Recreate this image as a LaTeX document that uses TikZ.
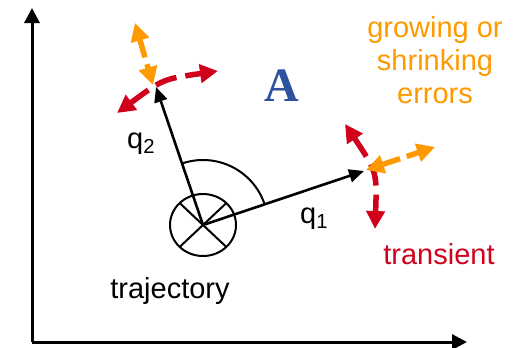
\documentclass[tikz,border=0pt]{standalone}
\usepackage{fontspec}
\setmainfont{Liberation Sans}
\newfontfamily\serifA{Liberation Serif}
\usetikzlibrary{arrows.meta,calc}
\definecolor{errorange}{RGB}{255,153,0}
\definecolor{transred}{RGB}{208,2,27}
\definecolor{ablue}{RGB}{47,82,160}
\tikzset{
  axisline/.style={line width=3pt,-{Triangle[length=15pt,width=15pt]}},
  vecline/.style={line width=2.6pt,-{Triangle[length=15pt,width=13pt]}},
  thinline/.style={line width=2pt},
  orangearr/.style={errorange,line width=5.5pt,dash pattern=on 19pt off 7pt,
    {Triangle[length=18pt,width=18pt]}-{Triangle[length=18pt,width=18pt]}},
  redarr/.style={transred,line width=5.5pt,dash pattern=on 22pt off 9pt,
    {Triangle[length=18pt,width=18pt]}-{Triangle[length=18pt,width=18pt]}},
  lbl/.style={inner sep=0pt,font=\fontsize{29}{34}\selectfont},
}
\begin{document}
\begin{tikzpicture}[x=1pt,y=-1pt]
\useasboundingbox (0,0) rectangle (522,348);
% axes
\coordinate (corner) at (32,342);
\coordinate (ytip) at (32,8);
\coordinate (xtip) at (467,342);
\draw[axisline] (corner) -- (ytip);
\draw[axisline] (corner) -- (xtip);
% origin circle
\coordinate (O) at (203,225);
\draw[thinline] (O) ellipse [x radius=33, y radius=31];
\coordinate (c1) at ($(O)+(23.3,21.9)$);
\coordinate (c2) at ($(O)+(-23.3,21.9)$);
\coordinate (c3) at ($(O)+(23.3,-21.9)$);
\coordinate (c4) at ($(O)+(-23.3,-21.9)$);
\draw[thinline] (c1) -- (c4);
\draw[thinline] (c2) -- (c3);
% angle arc
\draw[thinline] ($(O)+(-18.6:65)$) arc[start angle=-18.6, end angle=-108.4, radius=65];
% vectors
\coordinate (q2tip) at (156,87);
\coordinate (q1tip) at (364,171);
\draw[vecline] (O) -- (q2tip);
\draw[vecline] (O) -- (q1tip);
% upper error arrows
\coordinate (uo1) at (135,23);
\coordinate (uo2) at (153,85);
\draw[orangearr] (uo1) -- (uo2);
\coordinate (ur1) at (117,113);
\coordinate (ur2) at (218,71);
\coordinate (urc) at (163,79);
\draw[redarr] (ur1) .. controls (urc) .. (ur2);
% lower error arrows
\coordinate (lr1) at (345,124);
\coordinate (lr2) at (375,229);
\coordinate (lrc) at (377,172);
\draw[redarr] (lr1) .. controls (lrc) .. (lr2);
\coordinate (lo1) at (366,170);
\coordinate (lo2) at (435,147);
\draw[orangearr] (lo1) -- (lo2);
% labels
\node[lbl,anchor=base west] (q2lbl) at (127,148) {q\textsubscript{2}};
\node[lbl,anchor=base west] (q1lbl) at (300,223) {q\textsubscript{1}};
\node[lbl,anchor=base] (traj) at (170,298) {trajectory};
\node[lbl,anchor=base,text=transred] (trans) at (439,264) {transient};
\node[lbl,anchor=base,text=errorange] (err1) at (435,37) {growing or};
\node[lbl,anchor=base,text=errorange] (err2) at (435,70) {shrinking};
\node[lbl,anchor=base,text=errorange] (err3) at (435,103) {errors};
\node[inner sep=0pt,anchor=base,text=ablue,font=\serifA\bfseries\fontsize{48}{50}\selectfont] (A) at (282,101) {A};
\end{tikzpicture}
\end{document}
